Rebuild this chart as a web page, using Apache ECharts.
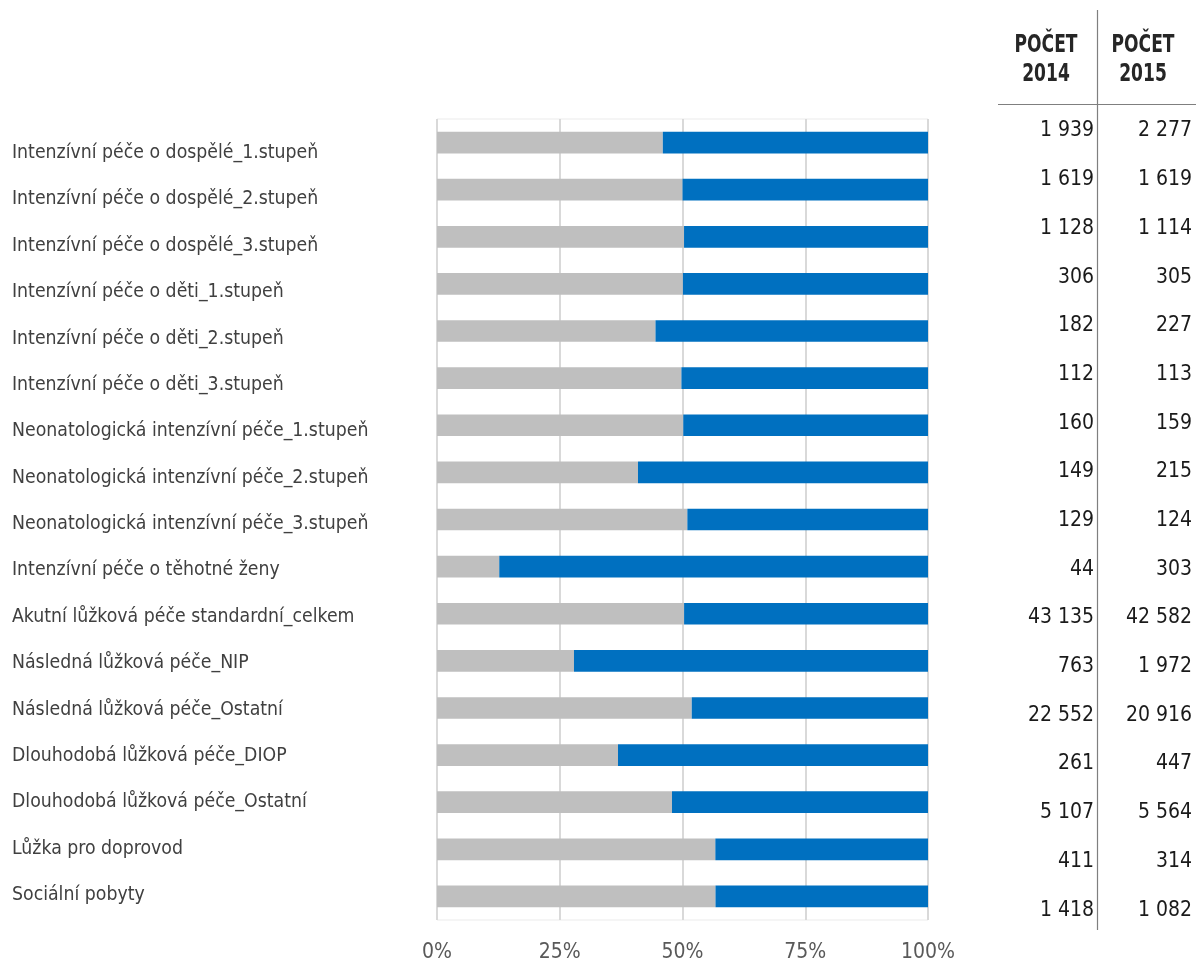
<!DOCTYPE html>
<html><head><meta charset="utf-8">
<script src="https://cdn.jsdelivr.net/npm/echarts@6/dist/echarts.min.js"></script>
<style>html,body{margin:0;padding:0;background:#fff}#c{width:1196px;height:963px}</style>
</head><body><div id="c"></div>
<script>
const categories = [
  'Intenzívní péče o dospělé_1.stupeň',
  'Intenzívní péče o dospělé_2.stupeň',
  'Intenzívní péče o dospělé_3.stupeň',
  'Intenzívní péče o děti_1.stupeň',
  'Intenzívní péče o děti_2.stupeň',
  'Intenzívní péče o děti_3.stupeň',
  'Neonatologická intenzívní péče_1.stupeň',
  'Neonatologická intenzívní péče_2.stupeň',
  'Neonatologická intenzívní péče_3.stupeň',
  'Intenzívní péče o těhotné ženy',
  'Akutní lůžková péče standardní_celkem',
  'Následná lůžková péče_NIP',
  'Následná lůžková péče_Ostatní',
  'Dlouhodobá lůžková péče_DIOP',
  'Dlouhodobá lůžková péče_Ostatní',
  'Lůžka pro doprovod',
  'Sociální pobyty'
];
const count2014 = [1939,1619,1128,306,182,112,160,149,129,44,43135,763,22552,261,5107,411,1418];
const count2015 = [2277,1619,1114,305,227,113,159,215,124,303,42582,1972,20916,447,5564,314,1082];
const xTicks = ['0%','25%','50%','75%','100%'];
const headers = ['POČET\n2014','POČET\n2015'];

const share2014 = count2014.map((a,i)=>a/(a+count2015[i])*100);
const share2015 = count2015.map((b,i)=>b/(count2014[i]+b)*100);
const fmtSp = v => String(v).replace(/\B(?=(\d{3})+(?!\d))/g,' ');

const FONT = '"DejaVu Sans Condensed","DejaVu Sans",sans-serif';
const chart = echarts.init(document.getElementById('c'), null, {renderer:'canvas'});
const hidX = i => ({type:'value', gridIndex:i, min:0, max:1, show:false});
const idx = categories.map((_,i)=>i);

const headerText = (x, t) => ({
  type:'group', x:x, y:30, scaleY:1.35,
  children:[{type:'text', x:0, y:0, style:{text:t, fill:'#262626', fontSize:19, fontWeight:'bold', fontFamily:FONT, align:'center', verticalAlign:'top', lineHeight:22}}]
});

chart.setOption({
  animation:false,
  grid:[
    {left:437, width:491, top:119, height:804, show:true, borderColor:'#ebebeb', borderWidth:1},
    {left:12, width:5, top:129.8, height:788.4},
    {left:1097, width:5, top:106.7, height:827.7},
    {left:1194, width:1, top:106.7, height:827.7}
  ],
  xAxis:[
    {type:'value', gridIndex:0, min:0, max:100, interval:25,
     axisLine:{show:false}, axisTick:{show:false},
     splitLine:{show:true, lineStyle:{color:'#d9d9d9', width:2}},
     axisLabel:{formatter:(v)=>xTicks[v/25], color:'#595959', fontSize:21, fontFamily:FONT, margin:22}},
    hidX(1), hidX(2), hidX(3)
  ],
  yAxis:[
    {type:'category', gridIndex:0, data:categories, inverse:true, show:false},
    {type:'category', gridIndex:1, data:categories, inverse:true,
     axisLine:{show:false}, axisTick:{show:false},
     axisLabel:{align:'left', margin:0, color:'#404040', fontSize:19.3, fontFamily:FONT}},
    {type:'category', gridIndex:2, data:idx, inverse:true,
     axisLine:{show:false}, axisTick:{show:false},
     axisLabel:{align:'right', margin:3, color:'#1a1a1a', fontSize:21, fontFamily:FONT,
       formatter:(v)=>fmtSp(count2014[v])}},
    {type:'category', gridIndex:3, data:idx, inverse:true,
     axisLine:{show:false}, axisTick:{show:false},
     axisLabel:{align:'right', margin:2, color:'#1a1a1a', fontSize:21, fontFamily:FONT,
       formatter:(v)=>fmtSp(count2015[v])}}
  ],
  series:[
    {name:'2014', type:'bar', stack:'s', xAxisIndex:0, yAxisIndex:0, data:share2014,
     barWidth:'46%', itemStyle:{color:'#bfbfbf'}},
    {name:'2015', type:'bar', stack:'s', xAxisIndex:0, yAxisIndex:0, data:share2015,
     barWidth:'46%', itemStyle:{color:'#0070c0'}}
  ],
  graphic:[
    {type:'line', shape:{x1:1097.5, y1:10, x2:1097.5, y2:930}, style:{stroke:'#7f7f7f', lineWidth:1.2}},
    {type:'line', shape:{x1:998, y1:104.5, x2:1196, y2:104.5}, style:{stroke:'#7f7f7f', lineWidth:1.2}},
    headerText(1046, headers[0]),
    headerText(1143, headers[1])
  ]
});
</script></body></html>
